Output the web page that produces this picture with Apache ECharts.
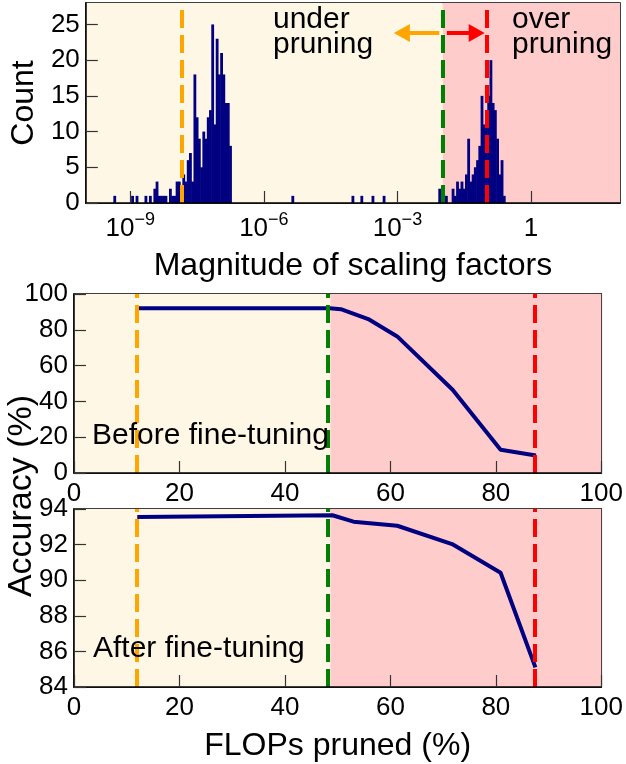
<!DOCTYPE html>
<html>
<head>
<meta charset="utf-8">
<script src="https://cdn.jsdelivr.net/npm/echarts@6/dist/echarts.min.js"></script>
<style>
    html, body { margin: 0; padding: 0; background: #fff; }
    #main { width: 626px; height: 764px; }
</style>
</head>
<body>
<div id="main"></div>
<script>
/* 数据：直方图（log10 尺度因子，计数） */
var histLog10 = [-9.35, -8.95, -8.85, -8.65, -8.55,
    -8.45, -8.40, -8.35, -8.30, -8.25, -8.20,
    -8.10, -8.05, -8.00, -7.95, -7.90, -7.85, -7.80, -7.75, -7.70, -7.65, -7.60, -7.55, -7.50, -7.45,
    -7.40, -7.35, -7.30, -7.25, -7.20, -7.15, -7.10, -7.05, -7.00, -6.95, -6.90, -6.85, -6.80, -6.75,
    -5.35, -4.00, -3.80, -3.55, -3.30,
    -2.05, -2.00, -1.95, -1.90,
    -1.75, -1.70, -1.65, -1.60, -1.55, -1.50, -1.45, -1.40, -1.35, -1.30, -1.25, -1.20,
    -1.15, -1.10, -1.05, -1.00, -0.95, -0.90, -0.85, -0.80, -0.75, -0.70, -0.65, -0.60];
var histCount = [1, 1, 1, 1, 1,
    2, 3, 1, 1, 1, 1,
    2, 1, 1, 3, 3, 2, 4, 3, 6, 7, 3, 18, 12, 9,
    5, 10, 9, 12, 13, 25, 11, 23, 18, 21, 18, 14, 14, 8,
    1, 1, 1, 1, 1,
    2, 1, 1, 1,
    2, 1, 3, 2, 3, 2, 4, 9, 3, 4, 5, 6,
    8, 15, 11, 13, 15, 20, 14, 13, 9, 4, 6, 1];
var HIST_BIN = 0.05;
var magTicks = [-9, -6, -3, 0];
var countTicks = [0, 5, 10, 15, 20, 25];

/* 阈值 */
var magOrange = -7.85, magGreen = -1.98, magRed = -1.0;
var flopsOrange = 11.9, flopsGreen = 48.2, flopsRed = 87.3;

/* 剪枝前 / 微调后 精度 */
var flopsBefore = [12, 48.5, 50.6, 55.8, 61.3, 71.8, 80.9, 87.6];
var accBefore = [92, 92, 91.5, 86, 76.3, 46.5, 13, 9.8];
var flopsAfter = [12, 49, 53, 61.3, 71.7, 80.9, 87.5];
var accAfter = [93.55, 93.65, 93.29, 93.06, 92.03, 90.42, 85.1];

var FONT = '"Liberation Sans", Arial, sans-serif';
var CREAM = '#fff7e6', PINK = '#ffcccc';
var NAVY = '#000080', ORANGE = '#ffa500', GREEN = '#008000', RED = '#ff0000';

function zip(xs, ys) {
    return xs.map(function (x, i) { return [x, ys[i]]; });
}

function dashLine(value, color) {
    return { xAxis: value, lineStyle: { color: color, width: 4, type: [18, 7] } };
}

function bgArea(from, mid, to) {
    return [
        [{ xAxis: from, itemStyle: { color: CREAM } }, { xAxis: mid }],
        [{ xAxis: mid, itemStyle: { color: PINK } }, { xAxis: to }]
    ];
}

/* 直方图柱子，左右各多画一点避免缝隙 */
function renderBin(params, api) {
    var x = api.value(0), c = api.value(1);
    var p0 = api.coord([x - HIST_BIN / 2, c]);
    var p1 = api.coord([x + HIST_BIN / 2, 0]);
    return {
        type: 'rect',
        shape: { x: p0[0] - 0.3, y: p0[1], width: p1[0] - p0[0] + 0.6, height: p1[1] - p0[1] },
        style: { fill: NAVY }
    };
}

function axisBase() {
    return {
        z: 10,
        axisLine: { show: true, onZero: false, lineStyle: { color: '#000', width: 1.5 } },
        axisTick: { show: true, inside: true, length: 12, lineStyle: { color: '#333', width: 1.2 } },
        axisLabel: { color: '#000', fontFamily: FONT, fontSize: 26 },
        splitLine: { show: false }
    };
}

function makeAxis(idx, min, max, extra) {
    var a = axisBase();
    a.type = 'value';
    a.gridIndex = idx;
    a.min = min;
    a.max = max;
    return Object.assign(a, extra || {});
}

function titleStyle() {
    return { color: '#000', fontFamily: FONT, fontSize: 32 };
}

function note(text, x, y, extra) {
    return Object.assign({
        type: 'text', x: x, y: y, z: 100,
        style: { text: text, fill: '#000', font: '30px ' + FONT, verticalAlign: 'middle' }
    }, extra || {});
}

var xTop = makeAxis(0, -10, 2, {
    name: 'Magnitude of scaling factors',
    nameLocation: 'middle',
    nameGap: 47,
    nameTextStyle: titleStyle()
});
xTop.axisTick.customValues = magTicks;
xTop.axisLabel.customValues = magTicks;
xTop.axisLabel.margin = 8;
xTop.axisLabel.formatter = function (v) {
    if (v === 0) return '{b|1}';
    return '{b|10}{s|\u2212' + Math.abs(v) + '}';
};
xTop.axisLabel.rich = {
    b: { fontFamily: FONT, fontSize: 26, lineHeight: 36, color: '#000' },
    s: { fontFamily: FONT, fontSize: 18, lineHeight: 18, verticalAlign: 'top', color: '#000' }
};

var xMid = makeAxis(1, 0, 100, { interval: 20 });
xMid.axisLabel.margin = 8;
var xBot = makeAxis(2, 0, 100, {
    interval: 20,
    name: 'FLOPs pruned (%)',
    nameLocation: 'middle',
    nameGap: 43,
    nameTextStyle: titleStyle()
});
xBot.axisLabel.margin = 8;

var yTop = makeAxis(0, 0, 28, {
    name: 'Count',
    nameLocation: 'middle',
    nameGap: 33,
    nameTextStyle: titleStyle()
});
yTop.axisTick.customValues = countTicks;
yTop.axisLabel.customValues = countTicks;
yTop.axisLabel.margin = 6;
var yMid = makeAxis(1, 0, 100, { interval: 20 });
yMid.axisLabel.margin = 6;
var yBot = makeAxis(2, 84, 94, { interval: 2 });
yBot.axisLabel.margin = 6;

var option = {
    backgroundColor: '#fff',
    animation: false,
    grid: [
        { left: 73, top: 3, width: 547, height: 200, show: true, borderColor: '#000', borderWidth: 1.5 },
        { left: 74, top: 294, width: 546, height: 179, show: true, borderColor: '#000', borderWidth: 1.5 },
        { left: 74, top: 509, width: 546, height: 178, show: true, borderColor: '#000', borderWidth: 1.5 }
    ],
    xAxis: [xTop, xMid, xBot],
    yAxis: [yTop, yMid, yBot],
    graphic: [
        note('Accuracy (%)', 22, 496, {
            rotation: Math.PI / 2,
            style: { text: 'Accuracy (%)', fill: '#000', font: '34px ' + FONT, align: 'center', verticalAlign: 'middle' }
        }),
        note('under\npruning', 273, 7, {
            style: { text: 'under\npruning', fill: '#000', font: '30px ' + FONT, lineHeight: 25, verticalAlign: 'top' }
        }),
        note('over\npruning', 512, 7, {
            style: { text: 'over\npruning', fill: '#000', font: '30px ' + FONT, lineHeight: 25, verticalAlign: 'top' }
        }),
        note('Before fine-tuning', 92, 436),
        note('After fine-tuning', 93, 649)
    ],
    series: [
        /* 背景色块 */
        { type: 'line', xAxisIndex: 0, yAxisIndex: 0, data: [], z: 0, silent: true,
          markArea: { silent: true, data: bgArea(-10, magGreen, 2) } },
        { type: 'line', xAxisIndex: 1, yAxisIndex: 1, data: [], z: 0, silent: true,
          markArea: { silent: true, data: bgArea(0, flopsGreen + 0.4, 100) } },
        { type: 'line', xAxisIndex: 2, yAxisIndex: 2, data: [], z: 0, silent: true,
          markArea: { silent: true, data: bgArea(0, flopsGreen + 0.4, 100) } },
        /* 直方图 */
        { type: 'custom', xAxisIndex: 0, yAxisIndex: 0, z: 2, renderItem: renderBin,
          data: zip(histLog10, histCount) },
        /* 精度曲线 */
        { type: 'line', xAxisIndex: 1, yAxisIndex: 1, z: 3, showSymbol: false,
          lineStyle: { color: NAVY, width: 4 }, data: zip(flopsBefore, accBefore) },
        { type: 'line', xAxisIndex: 2, yAxisIndex: 2, z: 3, showSymbol: false,
          lineStyle: { color: NAVY, width: 4 }, data: zip(flopsAfter, accAfter) },
        /* 阈值虚线与箭头 */
        { type: 'line', xAxisIndex: 0, yAxisIndex: 0, data: [], z: 5,
          markLine: {
              silent: true, symbol: ['none', 'none'], label: { show: false },
              data: [
                  dashLine(magOrange, ORANGE), dashLine(magGreen, GREEN), dashLine(magRed, RED),
                  [{ coord: [-2.06, 23.8], symbol: 'none', lineStyle: { color: ORANGE, width: 4, type: 'solid' } },
                   { coord: [-2.9, 23.8], symbol: 'triangle', symbolSize: [18, 16] }],
                  [{ coord: [-1.89, 23.8], symbol: 'none', lineStyle: { color: RED, width: 4, type: 'solid' } },
                   { coord: [-1.22, 23.8], symbol: 'triangle', symbolSize: [18, 16] }]
              ]
          } },
        { type: 'line', xAxisIndex: 1, yAxisIndex: 1, data: [], z: 5,
          markLine: { silent: true, symbol: ['none', 'none'], label: { show: false },
              data: [dashLine(flopsOrange, ORANGE), dashLine(flopsGreen, GREEN), dashLine(flopsRed, RED)] } },
        { type: 'line', xAxisIndex: 2, yAxisIndex: 2, data: [], z: 5,
          markLine: { silent: true, symbol: ['none', 'none'], label: { show: false },
              data: [dashLine(flopsOrange, ORANGE), dashLine(flopsGreen, GREEN), dashLine(flopsRed, RED)] } }
    ]
};

var myChart = echarts.init(document.getElementById('main'));
myChart.setOption(option);
</script>
</body>
</html>
